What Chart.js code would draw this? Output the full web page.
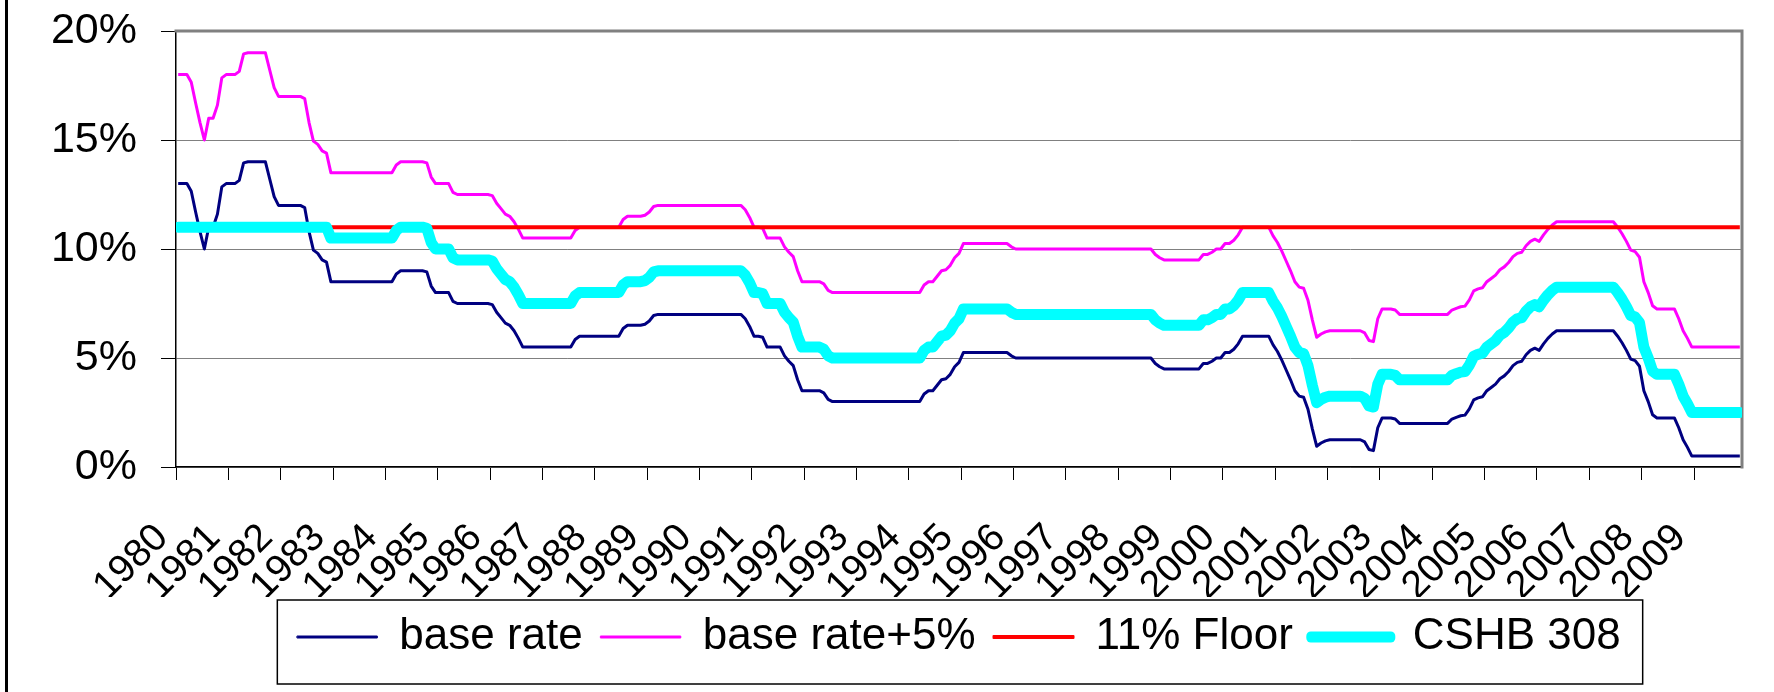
<!DOCTYPE html>
<html>
<head>
<meta charset="utf-8">
<title>Base rate, base rate + 5%, 11% floor and CSHB 308, 1980–2009</title>
<script src="https://cdn.jsdelivr.net/npm/chart.js@4.4.1/dist/chart.umd.min.js"></script>
<style>
  html, body { margin: 0; padding: 0; background: #ffffff; }
  #wrap { width: 1774px; height: 692px; }
</style>
</head>
<body>
<div id="wrap"><canvas id="chart" width="1774" height="692"></canvas></div>
<script>
// ---- data: monthly values, January 1980 to November 2009 ----
const yearLabels = [
  '1980', '1981', '1982', '1983', '1984', '1985', '1986', '1987', '1988', '1989',
  '1990', '1991', '1992', '1993', '1994', '1995', '1996', '1997', '1998', '1999',
  '2000', '2001', '2002', '2003', '2004', '2005', '2006', '2007', '2008', '2009'
];

const yTickValues = [0, 5, 10, 15, 20];

const baseRate = [
  13, 13, 13, 12.65, 11.7, 10.8, 10, 11, 11, 11.6, 12.85, 13,             // 1980
  13, 13, 13.15, 13.95, 14, 14, 14, 14, 14, 13.2, 12.4, 12,               // 1981
  12, 12, 12, 12, 12, 11.9, 10.8, 9.95, 9.8, 9.5, 9.4, 8.5,               // 1982
  8.5, 8.5, 8.5, 8.5, 8.5, 8.5, 8.5, 8.5, 8.5, 8.5, 8.5, 8.5,             // 1983
  8.5, 8.5, 8.85, 9, 9, 9, 9, 9, 9, 8.95, 8.3, 8,                         // 1984
  8, 8, 8, 7.6, 7.5, 7.5, 7.5, 7.5, 7.5, 7.5, 7.5, 7.5,                   // 1985
  7.45, 7.1, 6.85, 6.6, 6.5, 6.25, 5.9, 5.5, 5.5, 5.5, 5.5, 5.5,          // 1986
  5.5, 5.5, 5.5, 5.5, 5.5, 5.5, 5.5, 5.85, 6, 6, 6, 6,                    // 1987
  6, 6, 6, 6, 6, 6, 6.35, 6.5, 6.5, 6.5, 6.5, 6.55,                       // 1988
  6.7, 6.95, 7, 7, 7, 7, 7, 7, 7, 7, 7, 7,                                // 1989
  7, 7, 7, 7, 7, 7, 7, 7, 7, 7, 6.8, 6.45,                                // 1990
  6, 6, 5.95, 5.5, 5.5, 5.5, 5.5, 5.1, 4.85, 4.65, 4, 3.5,                // 1991
  3.5, 3.5, 3.5, 3.5, 3.4, 3.1, 3, 3, 3, 3, 3, 3,                         // 1992
  3, 3, 3, 3, 3, 3, 3, 3, 3, 3, 3, 3,                                     // 1993
  3, 3, 3, 3.35, 3.5, 3.5, 3.75, 4, 4.05, 4.25, 4.6, 4.8,                 // 1994
  5.25, 5.25, 5.25, 5.25, 5.25, 5.25, 5.25, 5.25, 5.25, 5.25, 5.25, 5.1,  // 1995
  5, 5, 5, 5, 5, 5, 5, 5, 5, 5, 5, 5,                                     // 1996
  5, 5, 5, 5, 5, 5, 5, 5, 5, 5, 5, 5,                                     // 1997
  5, 5, 5, 5, 5, 5, 5, 5, 4.75, 4.6, 4.5, 4.5,                            // 1998
  4.5, 4.5, 4.5, 4.5, 4.5, 4.5, 4.5, 4.75, 4.75, 4.85, 5, 5,              // 1999
  5.25, 5.25, 5.4, 5.65, 6, 6, 6, 6, 6, 6, 6, 5.6,                        // 2000
  5.3, 4.9, 4.45, 4, 3.5, 3.25, 3.2, 2.65, 1.75, 0.95, 1.1, 1.2,          // 2001
  1.25, 1.25, 1.25, 1.25, 1.25, 1.25, 1.25, 1.25, 1.15, 0.8, 0.75, 1.8,   // 2002
  2.25, 2.25, 2.25, 2.2, 2, 2, 2, 2, 2, 2, 2, 2,                          // 2003
  2, 2, 2, 2, 2.2, 2.28, 2.35, 2.38, 2.67, 3.08, 3.17, 3.22,              // 2004
  3.5, 3.65, 3.8, 4.05, 4.18, 4.38, 4.65, 4.8, 4.85, 5.15, 5.35, 5.45,    // 2005
  5.35, 5.65, 5.9, 6.1, 6.25, 6.25, 6.25, 6.25, 6.25, 6.25, 6.25, 6.25,   // 2006
  6.25, 6.25, 6.25, 6.25, 6.25, 6.25, 6, 5.7, 5.35, 4.95, 4.88, 4.62,     // 2007
  3.5, 3, 2.4, 2.25, 2.25, 2.25, 2.25, 2.25, 1.8, 1.25, 0.9, 0.5,         // 2008
  0.5, 0.5, 0.5, 0.5, 0.5, 0.5, 0.5, 0.5, 0.5, 0.5, 0.5                   // 2009
];

const baseRatePlus5 = [
  18, 18, 18, 17.65, 16.7, 15.8, 15, 16, 16, 16.6, 17.85, 18,             // 1980
  18, 18, 18.15, 18.95, 19, 19, 19, 19, 19, 18.2, 17.4, 17,               // 1981
  17, 17, 17, 17, 17, 16.9, 15.8, 14.95, 14.8, 14.5, 14.4, 13.5,          // 1982
  13.5, 13.5, 13.5, 13.5, 13.5, 13.5, 13.5, 13.5, 13.5, 13.5, 13.5, 13.5, // 1983
  13.5, 13.5, 13.85, 14, 14, 14, 14, 14, 14, 13.95, 13.3, 13,             // 1984
  13, 13, 13, 12.6, 12.5, 12.5, 12.5, 12.5, 12.5, 12.5, 12.5, 12.5,       // 1985
  12.45, 12.1, 11.85, 11.6, 11.5, 11.25, 10.9, 10.5, 10.5, 10.5, 10.5, 10.5, // 1986
  10.5, 10.5, 10.5, 10.5, 10.5, 10.5, 10.5, 10.85, 11, 11, 11, 11,        // 1987
  11, 11, 11, 11, 11, 11, 11.35, 11.5, 11.5, 11.5, 11.5, 11.55,           // 1988
  11.7, 11.95, 12, 12, 12, 12, 12, 12, 12, 12, 12, 12,                    // 1989
  12, 12, 12, 12, 12, 12, 12, 12, 12, 12, 11.8, 11.45,                    // 1990
  11, 11, 10.95, 10.5, 10.5, 10.5, 10.5, 10.1, 9.85, 9.65, 9, 8.5,        // 1991
  8.5, 8.5, 8.5, 8.5, 8.4, 8.1, 8, 8, 8, 8, 8, 8,                         // 1992
  8, 8, 8, 8, 8, 8, 8, 8, 8, 8, 8, 8,                                     // 1993
  8, 8, 8, 8.35, 8.5, 8.5, 8.75, 9, 9.05, 9.25, 9.6, 9.8,                 // 1994
  10.25, 10.25, 10.25, 10.25, 10.25, 10.25, 10.25, 10.25, 10.25, 10.25, 10.25, 10.1, // 1995
  10, 10, 10, 10, 10, 10, 10, 10, 10, 10, 10, 10,                         // 1996
  10, 10, 10, 10, 10, 10, 10, 10, 10, 10, 10, 10,                         // 1997
  10, 10, 10, 10, 10, 10, 10, 10, 9.75, 9.6, 9.5, 9.5,                    // 1998
  9.5, 9.5, 9.5, 9.5, 9.5, 9.5, 9.5, 9.75, 9.75, 9.85, 10, 10,            // 1999
  10.25, 10.25, 10.4, 10.65, 11, 11, 11, 11, 11, 11, 11, 10.6,            // 2000
  10.3, 9.9, 9.45, 9, 8.5, 8.25, 8.2, 7.65, 6.75, 5.95, 6.1, 6.2,         // 2001
  6.25, 6.25, 6.25, 6.25, 6.25, 6.25, 6.25, 6.25, 6.15, 5.8, 5.75, 6.8,   // 2002
  7.25, 7.25, 7.25, 7.2, 7, 7, 7, 7, 7, 7, 7, 7,                          // 2003
  7, 7, 7, 7, 7.2, 7.28, 7.35, 7.38, 7.67, 8.08, 8.17, 8.22,              // 2004
  8.5, 8.65, 8.8, 9.05, 9.18, 9.38, 9.65, 9.8, 9.85, 10.15, 10.35, 10.45, // 2005
  10.35, 10.65, 10.9, 11.1, 11.25, 11.25, 11.25, 11.25, 11.25, 11.25, 11.25, 11.25, // 2006
  11.25, 11.25, 11.25, 11.25, 11.25, 11.25, 11, 10.7, 10.35, 9.95, 9.88, 9.62, // 2007
  8.5, 8, 7.4, 7.25, 7.25, 7.25, 7.25, 7.25, 6.8, 6.25, 5.9, 5.5,         // 2008
  5.5, 5.5, 5.5, 5.5, 5.5, 5.5, 5.5, 5.5, 5.5, 5.5, 5.5                   // 2009
];

const floor11 = [
  11, 11, 11, 11, 11, 11, 11, 11, 11, 11, 11, 11,   // 1980
  11, 11, 11, 11, 11, 11, 11, 11, 11, 11, 11, 11,   // 1981
  11, 11, 11, 11, 11, 11, 11, 11, 11, 11, 11, 11,   // 1982
  11, 11, 11, 11, 11, 11, 11, 11, 11, 11, 11, 11,   // 1983
  11, 11, 11, 11, 11, 11, 11, 11, 11, 11, 11, 11,   // 1984
  11, 11, 11, 11, 11, 11, 11, 11, 11, 11, 11, 11,   // 1985
  11, 11, 11, 11, 11, 11, 11, 11, 11, 11, 11, 11,   // 1986
  11, 11, 11, 11, 11, 11, 11, 11, 11, 11, 11, 11,   // 1987
  11, 11, 11, 11, 11, 11, 11, 11, 11, 11, 11, 11,   // 1988
  11, 11, 11, 11, 11, 11, 11, 11, 11, 11, 11, 11,   // 1989
  11, 11, 11, 11, 11, 11, 11, 11, 11, 11, 11, 11,   // 1990
  11, 11, 11, 11, 11, 11, 11, 11, 11, 11, 11, 11,   // 1991
  11, 11, 11, 11, 11, 11, 11, 11, 11, 11, 11, 11,   // 1992
  11, 11, 11, 11, 11, 11, 11, 11, 11, 11, 11, 11,   // 1993
  11, 11, 11, 11, 11, 11, 11, 11, 11, 11, 11, 11,   // 1994
  11, 11, 11, 11, 11, 11, 11, 11, 11, 11, 11, 11,   // 1995
  11, 11, 11, 11, 11, 11, 11, 11, 11, 11, 11, 11,   // 1996
  11, 11, 11, 11, 11, 11, 11, 11, 11, 11, 11, 11,   // 1997
  11, 11, 11, 11, 11, 11, 11, 11, 11, 11, 11, 11,   // 1998
  11, 11, 11, 11, 11, 11, 11, 11, 11, 11, 11, 11,   // 1999
  11, 11, 11, 11, 11, 11, 11, 11, 11, 11, 11, 11,   // 2000
  11, 11, 11, 11, 11, 11, 11, 11, 11, 11, 11, 11,   // 2001
  11, 11, 11, 11, 11, 11, 11, 11, 11, 11, 11, 11,   // 2002
  11, 11, 11, 11, 11, 11, 11, 11, 11, 11, 11, 11,   // 2003
  11, 11, 11, 11, 11, 11, 11, 11, 11, 11, 11, 11,   // 2004
  11, 11, 11, 11, 11, 11, 11, 11, 11, 11, 11, 11,   // 2005
  11, 11, 11, 11, 11, 11, 11, 11, 11, 11, 11, 11,   // 2006
  11, 11, 11, 11, 11, 11, 11, 11, 11, 11, 11, 11,   // 2007
  11, 11, 11, 11, 11, 11, 11, 11, 11, 11, 11, 11,   // 2008
  11, 11, 11, 11, 11, 11, 11, 11, 11, 11, 11        // 2009
];

const cshb308 = [
  11, 11, 11, 11, 11, 11, 11, 11, 11, 11, 11, 11,                         // 1980
  11, 11, 11, 11, 11, 11, 11, 11, 11, 11, 11, 11,                         // 1981
  11, 11, 11, 11, 11, 11, 11, 11, 11, 11, 11, 10.5,                       // 1982
  10.5, 10.5, 10.5, 10.5, 10.5, 10.5, 10.5, 10.5, 10.5, 10.5, 10.5, 10.5, // 1983
  10.5, 10.5, 10.85, 11, 11, 11, 11, 11, 11, 10.95, 10.3, 10,             // 1984
  10, 10, 10, 9.6, 9.5, 9.5, 9.5, 9.5, 9.5, 9.5, 9.5, 9.5,                // 1985
  9.45, 9.1, 8.85, 8.6, 8.5, 8.25, 7.9, 7.5, 7.5, 7.5, 7.5, 7.5,          // 1986
  7.5, 7.5, 7.5, 7.5, 7.5, 7.5, 7.5, 7.85, 8, 8, 8, 8,                    // 1987
  8, 8, 8, 8, 8, 8, 8.35, 8.5, 8.5, 8.5, 8.5, 8.55,                       // 1988
  8.7, 8.95, 9, 9, 9, 9, 9, 9, 9, 9, 9, 9,                                // 1989
  9, 9, 9, 9, 9, 9, 9, 9, 9, 9, 8.8, 8.45,                                // 1990
  8, 8, 7.95, 7.5, 7.5, 7.5, 7.5, 7.1, 6.85, 6.65, 6, 5.5,                // 1991
  5.5, 5.5, 5.5, 5.5, 5.4, 5.1, 5, 5, 5, 5, 5, 5,                         // 1992
  5, 5, 5, 5, 5, 5, 5, 5, 5, 5, 5, 5,                                     // 1993
  5, 5, 5, 5.35, 5.5, 5.5, 5.75, 6, 6.05, 6.25, 6.6, 6.8,                 // 1994
  7.25, 7.25, 7.25, 7.25, 7.25, 7.25, 7.25, 7.25, 7.25, 7.25, 7.25, 7.1,  // 1995
  7, 7, 7, 7, 7, 7, 7, 7, 7, 7, 7, 7,                                     // 1996
  7, 7, 7, 7, 7, 7, 7, 7, 7, 7, 7, 7,                                     // 1997
  7, 7, 7, 7, 7, 7, 7, 7, 6.75, 6.6, 6.5, 6.5,                            // 1998
  6.5, 6.5, 6.5, 6.5, 6.5, 6.5, 6.5, 6.75, 6.75, 6.85, 7, 7,              // 1999
  7.25, 7.25, 7.4, 7.65, 8, 8, 8, 8, 8, 8, 8, 7.6,                        // 2000
  7.3, 6.9, 6.45, 6, 5.5, 5.25, 5.2, 4.65, 3.75, 2.95, 3.1, 3.2,          // 2001
  3.25, 3.25, 3.25, 3.25, 3.25, 3.25, 3.25, 3.25, 3.15, 2.8, 2.75, 3.8,   // 2002
  4.25, 4.25, 4.25, 4.2, 4, 4, 4, 4, 4, 4, 4, 4,                          // 2003
  4, 4, 4, 4, 4.2, 4.28, 4.35, 4.38, 4.67, 5.08, 5.17, 5.22,              // 2004
  5.5, 5.65, 5.8, 6.05, 6.18, 6.38, 6.65, 6.8, 6.85, 7.15, 7.35, 7.45,    // 2005
  7.35, 7.65, 7.9, 8.1, 8.25, 8.25, 8.25, 8.25, 8.25, 8.25, 8.25, 8.25,   // 2006
  8.25, 8.25, 8.25, 8.25, 8.25, 8.25, 8, 7.7, 7.35, 6.95, 6.88, 6.62,     // 2007
  5.5, 5, 4.4, 4.25, 4.25, 4.25, 4.25, 4.25, 3.8, 3.25, 2.9, 2.5,         // 2008
  2.5, 2.5, 2.5, 2.5, 2.5, 2.5, 2.5, 2.5, 2.5, 2.5, 2.5                   // 2009
];

// ---- drawing ----
const FONT = '"Liberation Sans", Arial, Helvetica, sans-serif';
Chart.defaults.font.family = FONT;
Chart.defaults.color = '#000000';

// the year labels use a narrow face when one is installed
function fontInstalled(name) {
  const c = document.createElement('canvas').getContext('2d');
  c.font = '40px monospace';
  const plain = c.measureText('1980 base').width;
  c.font = '40px "' + name + '", monospace';
  return Math.abs(c.measureText('1980 base').width - plain) > 0.5;
}
const narrowYears = fontInstalled('Liberation Sans Narrow');
const yearFont = narrowYears
  ? { family: '"Liberation Sans Narrow", "Liberation Sans", Arial, sans-serif', size: 44 }
  : { family: FONT, size: 39 };
const yearPadding = narrowYears ? 33 : 35;

// each month sits in the middle of its own slot on the time axis
const toPoints = (values) => values.map((v, i) => ({ x: i + 0.5, y: v }));
const monthCount = baseRate.length;

// white page plus the black edge of the outer frame on the far left
const paperBackground = {
  id: 'paperBackground',
  beforeDraw(chart) {
    const { ctx, width, height } = chart;
    ctx.save();
    ctx.fillStyle = '#ffffff';
    ctx.fillRect(0, 0, width, height);
    ctx.fillStyle = '#000000';
    ctx.fillRect(5, 0, 3, height);
    ctx.restore();
  }
};

// grey frame along the top and right of the plot area
const plotFrame = {
  id: 'plotFrame',
  beforeDatasetsDraw(chart) {
    const { ctx, chartArea: a } = chart;
    ctx.save();
    ctx.strokeStyle = '#808080';
    ctx.lineWidth = 3;
    ctx.lineCap = 'square';
    ctx.beginPath();
    ctx.moveTo(a.left, a.top);
    ctx.lineTo(a.right, a.top);
    ctx.lineTo(a.right, a.bottom);
    ctx.stroke();
    ctx.restore();
  }
};

// opaque, outlined legend box drawn over the lower ends of the year labels
const legendFrame = {
  id: 'legendFrame',
  afterDraw(chart) {
    const lg = chart.legend;
    if (!lg || !lg.legendHitBoxes || !lg.legendHitBoxes.length) return;
    const boxes = lg.legendHitBoxes;
    const first = boxes[0];
    const last = boxes[boxes.length - 1];
    const mid = first.top + first.height / 2;
    const left = first.left - 20;
    const right = last.left + last.width + 22;
    const top = mid - 37;
    const bottom = mid + 47;
    const ctx = chart.ctx;
    ctx.save();
    ctx.fillStyle = '#ffffff';
    ctx.fillRect(left, top, right - left, bottom - top);
    ctx.strokeStyle = '#000000';
    ctx.lineWidth = 1.5;
    ctx.strokeRect(left, top, right - left, bottom - top);
    ctx.restore();
    lg.draw();
  }
};

new Chart(document.getElementById('chart'), {
  type: 'line',
  data: {
    datasets: [
      { label: 'base rate', data: toPoints(baseRate), borderColor: '#000080',
        borderWidth: 3, borderJoinStyle: 'round', order: 3 },
      { label: 'base rate+5%', data: toPoints(baseRatePlus5), borderColor: '#FF00FF',
        borderWidth: 3, borderJoinStyle: 'round', order: 2 },
      { label: '11% Floor', data: toPoints(floor11), borderColor: '#FF0000',
        borderWidth: 4, order: 1 },
      { label: 'CSHB 308', data: toPoints(cshb308), borderColor: '#00FFFF',
        borderWidth: 11, borderJoinStyle: 'round', borderCapStyle: 'round', order: 0 }
    ]
  },
  options: {
    responsive: false,
    animation: false,
    devicePixelRatio: 1,
    layout: { padding: { top: 31, right: 32, bottom: 23, left: 0 } },
    elements: {
      point: { radius: 0, hoverRadius: 0 },
      line: { tension: 0, fill: false }
    },
    plugins: {
      tooltip: { enabled: false },
      title: { display: false },
      legend: {
        position: 'bottom',
        fullSize: false,
        align: 'center',
        labels: {
          color: '#000000',
          font: { family: FONT, size: 44 },
          boxWidth: 80,
          boxHeight: 2,
          padding: 18,
          generateLabels(chart) {
            return chart.data.datasets.map((ds, i) => ({
              text: ds.label,
              datasetIndex: i,
              fillStyle: ds.borderColor,
              strokeStyle: ds.borderColor,
              lineWidth: Math.max(ds.borderWidth - 2, 0),
              lineJoin: 'round',
              lineCap: 'round',
              fontColor: '#000000',
              hidden: false
            }));
          }
        }
      }
    },
    scales: {
      x: {
        type: 'linear',
        min: 0,
        max: monthCount,
        afterBuildTicks(scale) {
          scale.ticks = yearLabels.map((_, k) => ({ value: k * 12 }));
        },
        afterFit(scale) { scale.height = 130; },
        ticks: {
          autoSkip: false,
          minRotation: 45,
          maxRotation: 45,
          padding: yearPadding,
          labelOffset: -14,
          color: '#000000',
          font: yearFont,
          callback: (value, index) => yearLabels[index]
        },
        grid: {
          drawOnChartArea: false,
          drawTicks: true,
          tickLength: 13,
          tickColor: '#000000',
          tickWidth: 1
        },
        border: { color: '#000000', width: 1.5 }
      },
      y: {
        min: 0,
        max: 20,
        afterBuildTicks(scale) {
          scale.ticks = yTickValues.map((v) => ({ value: v }));
        },
        afterFit(scale) {
          scale.width = 176;
          scale.paddingTop = 20;
          scale.paddingBottom = 20;
        },
        ticks: {
          padding: 24,
          color: '#000000',
          font: { family: FONT, size: 43 },
          callback: (value) => value + '%'
        },
        grid: {
          color: '#808080',
          lineWidth: 1,
          tickLength: 15,
          tickColor: '#000000'
        },
        border: { color: '#000000', width: 1.5 }
      }
    }
  },
  plugins: [paperBackground, plotFrame, legendFrame]
});
</script>
</body>
</html>
